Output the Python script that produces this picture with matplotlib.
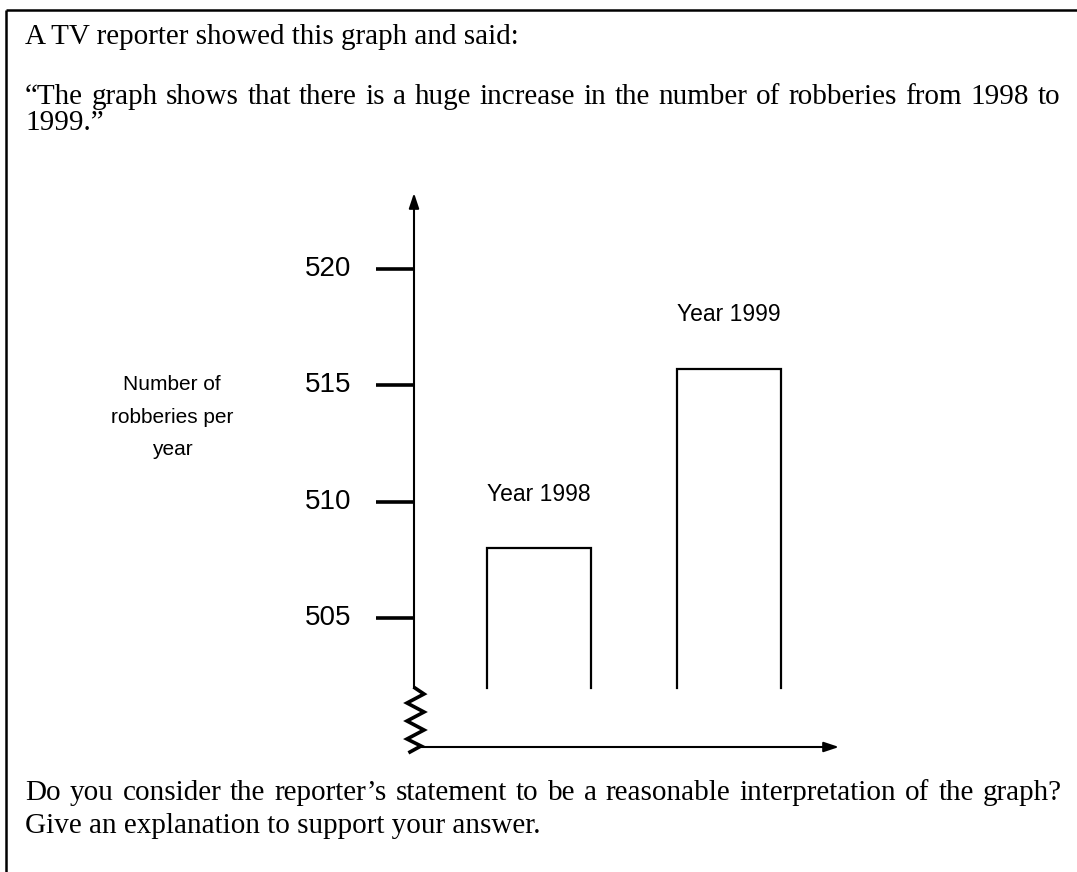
import matplotlib
matplotlib.use("Agg")
import matplotlib.pyplot as plt
import numpy as np

# ---- data ----
years = ["Year 1998", "Year 1999"]
robberies = [508.0, 515.7]
bar_base = 502.0
tick_values = [505, 510, 515, 520]
tick_labels = ["505", "510", "515", "520"]
ylabel_text = "Number of\nrobberies per\nyear"
intro_line = "A TV reporter showed this graph and said:"
quote_lines = ["\u201cThe graph shows that there is a huge increase in the number of robberies from 1998 to",
               "1999.\u201d"]
question_lines = ["Do you consider the reporter\u2019s statement to be a reasonable interpretation of the graph?",
                  "Give an explanation to support your answer."]

W, H = 1077, 872
fig = plt.figure(figsize=(W / 100, H / 100), dpi=100)

# overlay in pixel coordinates for frame/text
ov = fig.add_axes([0, 0, 1, 1])
ov.set_xlim(0, W)
ov.set_ylim(H, 0)
ov.axis("off")

serif = ["Liberation Serif", "DejaVu Serif"]
sans = ["Liberation Sans", "DejaVu Sans"]

renderer = fig.canvas.get_renderer()
SIZE = 21


def put_line(text, y, x_start, x_end=None, size=SIZE):
    """Place a line of text; if x_end given, spread words so the line spans to x_end."""
    if x_end is None:
        ov.text(x_start, y, text, family=serif, fontsize=size, ha="left", va="center")
        return
    words = text.split(" ")
    arts = [ov.text(0, y, w, family=serif, fontsize=size, ha="left", va="center") for w in words]
    widths = [a.get_window_extent(renderer).width for a in arts]
    gap = (x_end - x_start - sum(widths)) / max(len(words) - 1, 1)
    x = x_start
    for a, w in zip(arts, widths):
        a.set_x(x)
        x += w + gap


# frame (top and left)
ov.plot([6, W], [10, 10], color="black", lw=1.8, solid_capstyle="butt")
ov.plot([6, 6], [10, H], color="black", lw=1.8, solid_capstyle="butt")

put_line(intro_line, 37, 25)
put_line(quote_lines[0], 97, 25, 1060)
put_line(quote_lines[1], 123, 25)
put_line(question_lines[0], 793, 25, 1062)
put_line(question_lines[1], 826, 25)

# y-axis label (one line at a time)
for line, ly in zip(ylabel_text.split("\n"), [384, 417, 449]):
    ov.text(172, ly, line, family=sans, fontsize=15, ha="center", va="center")

# chart axes
left_px, right_px, top_px, bot_px = 414, 835, 193, 750
ppu = 23.27
ref_val, ref_px = 505, 618
ax = fig.add_axes([left_px / W, 1 - bot_px / H, (right_px - left_px) / W, (bot_px - top_px) / H])
ymin, ymax = ref_val - (bot_px - ref_px) / ppu, ref_val + (ref_px - top_px) / ppu
ax.set_ylim(ymin, ymax)
px_per_x = 190.0
x0c = 539
ax.set_xlim((left_px - x0c) / px_per_x, (right_px - x0c) / px_per_x)
ax.axis("off")
ax.patch.set_visible(False)

xpos = np.arange(len(years))
bars = ax.bar(xpos, np.array(robberies) - bar_base, bottom=bar_base, width=104 / px_per_x,
              fill=False, linewidth=0)
for b in bars:
    bx0, by0 = b.get_x(), b.get_y()
    bx1, by1 = bx0 + b.get_width(), by0 + b.get_height()
    ax.plot([bx0, bx0, bx1, bx1], [by0, by1, by1, by0], color="black", lw=1.6,
            solid_joinstyle="miter")

for xi, v, lab in zip(xpos, robberies, years):
    ax.annotate(lab, xy=(xi, v), xytext=(0, 39), textcoords="offset points",
                ha="center", va="center", family=sans, fontsize=16.5)

blend = ax.get_yaxis_transform()
# y axis line with arrow
ax.annotate("", xy=(0, ymax), xytext=(0, bar_base), xycoords=blend, textcoords=blend,
            arrowprops=dict(arrowstyle="-|>,head_length=0.9,head_width=0.3", color="black",
                            lw=1.5, shrinkA=0, shrinkB=0))
tick_len = (left_px - 376) / (right_px - left_px)
lab_x = (351 - left_px) / (right_px - left_px)
for tv, tl in zip(tick_values, tick_labels):
    ax.plot([-tick_len, 0], [tv, tv], transform=blend, color="black", lw=2.6,
            clip_on=False, solid_capstyle="butt")
    ax.text(lab_x, tv, tl, transform=blend, ha="right", va="center", family=sans, fontsize=20)

# zigzag break (pixel overlay)
zz_x = [415, 424, 407, 424, 407, 424, 407, 421, 410]
zz_y = [688, 694, 703, 712, 721, 730, 739, 746, 752]
ov.plot(zz_x, zz_y, color="black", lw=2.6, solid_joinstyle="miter")

# x axis arrow
ov.annotate("", xy=(839, 747), xytext=(418, 747), xycoords="data",
            arrowprops=dict(arrowstyle="-|>,head_length=0.9,head_width=0.3", color="black",
                            lw=1.5, shrinkA=0, shrinkB=0))

fig.savefig("out.png", dpi=100)
